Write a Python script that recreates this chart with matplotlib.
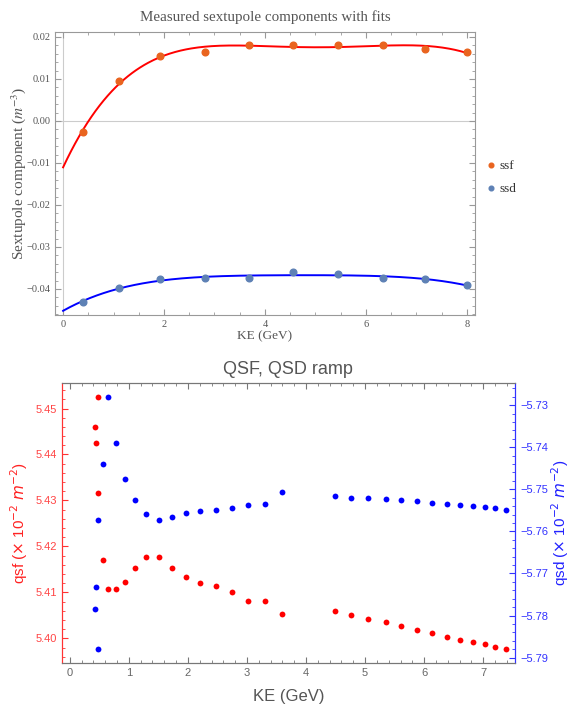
import numpy as np
import matplotlib
matplotlib.use("Agg")
import matplotlib.pyplot as plt
from matplotlib.ticker import MultipleLocator

# sextupole measurements vs kinetic energy
ke_sext = [0.39, 1.11, 1.93, 2.81, 3.68, 4.55, 5.45, 6.34, 7.17, 8.0]
ssf = [-0.0026, 0.0096, 0.01555, 0.0165, 0.0180, 0.0180, 0.0180, 0.0180, 0.0172, 0.0165]
ssd = [-0.0430, -0.0398, -0.0376, -0.0375, -0.0375, -0.0360, -0.0364, -0.0375, -0.0376, -0.0391]

# quadrupole ramp (units of 1e-2 m^-2)
ke_q = [0.423, 0.445, 0.474, 0.474, 0.558, 0.653, 0.789, 0.941, 1.10, 1.286, 1.506,
        1.726, 1.963, 2.21, 2.48, 2.746, 3.01, 3.305, 3.592, 4.484, 4.765, 5.052,
        5.347, 5.611, 5.877, 6.130, 6.379, 6.609, 6.819, 7.039, 7.208, 7.382]
qsf = [5.4459, 5.4424, 5.4525, 5.4317, 5.4170, 5.4107, 5.4107, 5.4122, 5.4152, 5.4177,
       5.4177, 5.4152, 5.4133, 5.4120, 5.4115, 5.4101, 5.4081, 5.4081, 5.4053, 5.4059,
       5.4051, 5.4043, 5.4036, 5.4026, 5.4019, 5.4012, 5.4003, 5.3997, 5.3992, 5.3987,
       5.3982, 5.3977]
qsd = [-5.7785, -5.7731, -5.7574, -5.7880, -5.7439, -5.7280, -5.7391, -5.7475, -5.7526,
       -5.7558, -5.7574, -5.7566, -5.7556, -5.7552, -5.7550, -5.7545, -5.7537, -5.7534,
       -5.7507, -5.7517, -5.7520, -5.7520, -5.7523, -5.7526, -5.7529, -5.7532, -5.7534,
       -5.7537, -5.7539, -5.7542, -5.7545, -5.7549]

serif = "Liberation Serif"
sans = "Liberation Sans"
gray_txt = "#555555"
gray_frame = "#999999"

fig = plt.figure(figsize=(5.72, 7.07), dpi=100)

# ---- top panel: sextupoles with 4th order polynomial fits
ax = fig.add_axes([0.0962, 0.5545, 0.734, 0.4003])
xs = np.linspace(0, 8, 300)
fit_f = np.polyfit(ke_sext, ssf, 4)
fit_d = np.polyfit(ke_sext, ssd, 4)
ax.axhline(0, color="#cccccc", lw=0.8, zorder=0)
ax.axvline(0, color="#cccccc", lw=0.8, zorder=0)
ax.plot(xs, np.polyval(fit_f, xs), color="#ff0000", lw=1.4, zorder=2)
ax.plot(xs, np.polyval(fit_d, xs), color="#0000ff", lw=1.4, zorder=2)
ax.plot(ke_sext, ssf, "o", color="#e9641f", ms=4.8, label="ssf", zorder=3)
ax.plot(ke_sext, ssd, "o", color="#5e81b5", ms=4.8, label="ssd", zorder=3)
ax.set_xlim(-0.16, 8.16)
ax.set_ylim(-0.0462, 0.0212)
ax.xaxis.set_major_locator(MultipleLocator(2))
ax.xaxis.set_minor_locator(MultipleLocator(0.5))
ax.yaxis.set_major_locator(MultipleLocator(0.01))
ax.yaxis.set_minor_locator(MultipleLocator(0.002))
ax.yaxis.set_major_formatter(matplotlib.ticker.FuncFormatter(
    lambda v, p: ("%.2f" % v).replace("-", "\u2212") if abs(v) > 1e-9 else "0.00"))
ax.tick_params(which="both", direction="in", top=True, right=True, colors=gray_frame,
               labelcolor=gray_txt, labelsize=7.5)
ax.tick_params(which="major", length=4)
ax.tick_params(which="minor", length=2)
for lbl in ax.get_xticklabels() + ax.get_yticklabels():
    lbl.set_fontfamily(serif)
for s in ax.spines.values():
    s.set_color(gray_frame)
ax.set_title("Measured sextupole components with fits", fontfamily=serif, fontsize=10.8,
             color=gray_txt, pad=8)
ax.set_xlabel("KE (GeV)", fontfamily=serif, fontsize=9.5, color=gray_txt, labelpad=1)
ax.set_ylabel(r"Sextupole component ($m^{-3}$)", fontfamily=serif, fontsize=11,
              color=gray_txt, math_fontfamily="stix", labelpad=-1)
leg = ax.legend(loc="center left", bbox_to_anchor=(1.0, 0.485), frameon=False,
                handlelength=0.8, handletextpad=0.3, labelspacing=0.8, markerscale=0.7,
                borderpad=0.3, prop={"family": serif, "size": 9.5})
for t in leg.get_texts():
    t.set_color("#333333")

# ---- bottom panel: QSF and QSD on twin axes
bx = fig.add_axes([0.108, 0.0626, 0.7925, 0.396])
bx.plot(ke_q, qsf, "o", color="#ff0000", ms=4.2, mec="none")
bx.set_xlim(-0.135, 7.54)
bx.set_ylim(5.3947, 5.4556)
bx2 = bx.twinx()
bx2.plot(ke_q, qsd, "o", color="#0000ff", ms=4.2, mec="none")
bx2.set_ylim(-5.7912, -5.7247)

bx.xaxis.set_major_locator(MultipleLocator(1))
bx.xaxis.set_minor_locator(MultipleLocator(0.2))
bx.yaxis.set_major_locator(MultipleLocator(0.01))
bx.yaxis.set_minor_locator(MultipleLocator(0.002))
bx2.yaxis.set_major_locator(MultipleLocator(0.01))
bx2.yaxis.set_minor_locator(MultipleLocator(0.002))
bx.yaxis.set_major_formatter(matplotlib.ticker.FormatStrFormatter("%.2f"))
bx2.yaxis.set_major_formatter(matplotlib.ticker.FuncFormatter(
    lambda v, p: ("%.2f" % v).replace("-", "\u2212")))

red_ax = "#ff3333"
blue_ax = "#3333ff"
bx.tick_params(axis="x", which="both", direction="in", top=True, colors="#777777",
               labelcolor="#666666", labelsize=8)
bx.tick_params(axis="y", which="both", direction="in", colors=red_ax, labelcolor="#ff4444",
               labelsize=8)
bx2.tick_params(axis="y", which="both", direction="in", colors=blue_ax, labelcolor="#3333ff",
                labelsize=8)
for a in (bx, bx2):
    a.tick_params(which="major", length=4)
    a.tick_params(which="minor", length=2)
for lbl in bx.get_xticklabels() + bx.get_yticklabels() + bx2.get_yticklabels():
    lbl.set_fontfamily(sans)
for a in (bx, bx2):
    a.spines["top"].set_color("#777777")
    a.spines["bottom"].set_color("#777777")
    a.spines["left"].set_color(red_ax)
    a.spines["right"].set_color(blue_ax)

bx.set_title("QSF, QSD ramp", fontfamily=sans, fontsize=13, color=gray_txt, pad=6)
bx.set_xlabel("KE (GeV)", fontfamily=sans, fontsize=12, color=gray_txt, labelpad=8)
bx.set_ylabel(r"qsf ($\times$ 10$^{-2}$ $m^{-2}$)", fontfamily=sans, fontsize=11,
              color="#ff2222", math_fontfamily="dejavusans", labelpad=4)
bx2.set_ylabel(r"qsd ($\times$ 10$^{-2}$ $m^{-2}$)", fontfamily=sans, fontsize=11,
               color="#2222ff", math_fontfamily="dejavusans", labelpad=1)

plt.savefig("out.png", dpi=100)
